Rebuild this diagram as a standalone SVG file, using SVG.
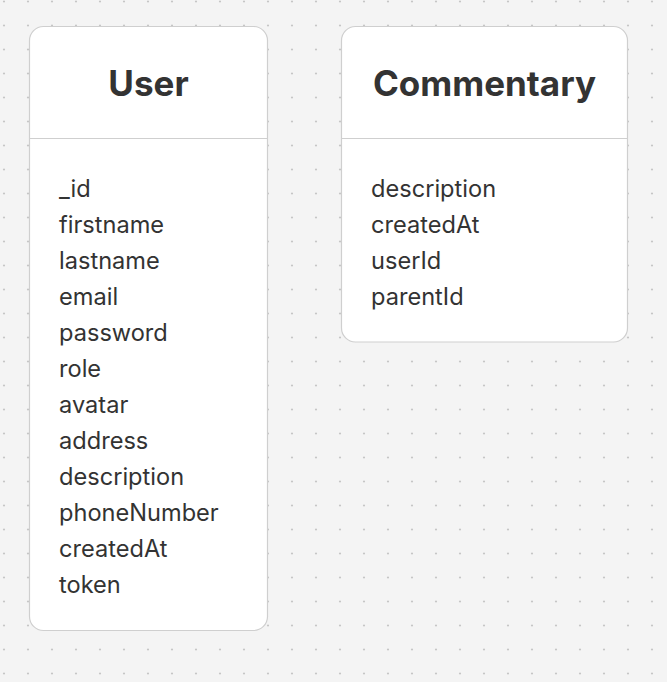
<svg xmlns="http://www.w3.org/2000/svg" width="667" height="682" viewBox="0 0 667 682">
  <defs>
    <pattern id="dots" x="0" y="0" width="24" height="24" patternUnits="userSpaceOnUse">
      <circle cx="4" cy="1.5" r="1.1" fill="#c6c6c6"/>
    </pattern>
    <style>
      .box { fill: #ffffff; stroke: #cfcfcf; stroke-width: 1.2; }
      .divider { stroke: #cfcfcf; stroke-width: 1.2; }
      .title { font-family: Inter, "Liberation Sans", sans-serif; font-weight: 700; font-size: 35px; fill: #333333; text-anchor: middle; }
      .field { font-family: Inter, "Liberation Sans", sans-serif; font-weight: 400; font-size: 23.6px; fill: #333333; }
    </style>
  </defs>
  <rect x="0" y="0" width="667" height="682" fill="#f4f4f4"/>
  <rect x="0" y="0" width="667" height="682" fill="url(#dots)"/>

  <g id="connectors"></g>

  <g id="node-user">
    <rect class="box" x="29.5" y="26.5" width="238" height="604" rx="14" ry="14"/>
    <line class="divider" x1="29.5" y1="138.5" x2="267.5" y2="138.5"/>
    <text class="title" x="148.5" y="96">User</text>
    <text class="field" x="59" y="197">_id</text>
    <text class="field" x="59" y="233">firstname</text>
    <text class="field" x="59" y="269">lastname</text>
    <text class="field" x="59" y="305">email</text>
    <text class="field" x="59" y="341">password</text>
    <text class="field" x="59" y="377">role</text>
    <text class="field" x="59" y="413">avatar</text>
    <text class="field" x="59" y="449">address</text>
    <text class="field" x="59" y="485">description</text>
    <text class="field" x="59" y="521">phoneNumber</text>
    <text class="field" x="59" y="557">createdAt</text>
    <text class="field" x="59" y="593">token</text>
  </g>

  <g id="node-commentary">
    <rect class="box" x="341.5" y="26.5" width="286" height="315.5" rx="14" ry="14"/>
    <line class="divider" x1="341.5" y1="138.5" x2="627.5" y2="138.5"/>
    <text class="title" x="484.5" y="96">Commentary</text>
    <text class="field" x="371" y="197">description</text>
    <text class="field" x="371" y="233">createdAt</text>
    <text class="field" x="371" y="269">userId</text>
    <text class="field" x="371" y="305">parentId</text>
  </g>
</svg>
